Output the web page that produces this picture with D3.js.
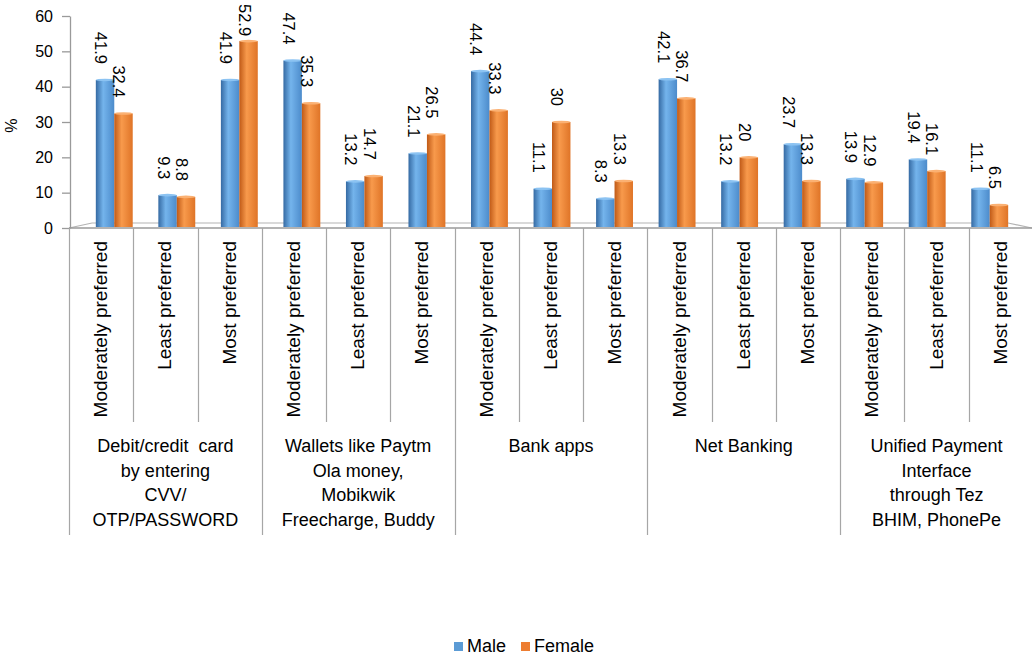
<!DOCTYPE html>
<html>
<head>
<meta charset="utf-8">
<script src="https://cdn.jsdelivr.net/npm/d3@7"></script>
<style>
  html, body { margin: 0; padding: 0; background: #fff; }
  svg { display: block; font-family: "Liberation Sans", Arial, sans-serif; }
  text { white-space: pre; }
</style>
</head>
<body>
<svg id="chart" width="1032" height="658"></svg>
<script>
// Preference of payment modes, by gender (%)
const groups = [
  ["Debit/credit  card", "by entering", "CVV/", "OTP/PASSWORD"],
  ["Wallets like Paytm", "Ola money,", "Mobikwik", "Freecharge, Buddy"],
  ["Bank apps"],
  ["Net Banking"],
  ["Unified Payment", "Interface", "through Tez", "BHIM, PhonePe"]
];
const levels = ["Moderately preferred", "Least preferred", "Most preferred"];
const seriesNames = ["Male", "Female"];
const male   = [41.9, 9.3, 41.9, 47.4, 13.2, 21.1, 44.4, 11.1, 8.3, 42.1, 13.2, 23.7, 13.9, 19.4, 11.1];
const female = [32.4, 8.8, 52.9, 35.3, 14.7, 26.5, 33.3, 30, 13.3, 36.7, 20, 13.3, 12.9, 16.1, 6.5];
const yTicks = [0, 10, 20, 30, 40, 50, 60];

const colors = {
  Male:   { base: "#5b9bd5", stops: ["#356aa3", "#74b4ec", "#4c8bcb"], cap: "#8cc3f2" },
  Female: { base: "#ed7d31", stops: ["#c05a17", "#f89a4c", "#df7427"], cap: "#fbb173" }
};

const svg = d3.select("#chart");

// categories: one slot per (group, level)
const cats = [];
groups.forEach((g, gi) => levels.forEach((l, li) => cats.push({ gi, li, label: l })));
const catIdx = cats.map((d, i) => i);

// front plane of the floor (axis labels) and the depth plane where columns sit
const xSlot = d3.scaleBand().domain(catIdx).range([69, 1033]);
const xBar = d3.scaleBand().domain(catIdx).range([83, 1021]).paddingInner(0.41).paddingOuter(0.205);
const xSeries = d3.scaleBand().domain(seriesNames).range([0, xBar.bandwidth()]);
const y = d3.scaleLinear().domain([0, 60]).range([228, 16]);

// gradients for the cylindrical look
const defs = svg.append("defs");
seriesNames.forEach(s => {
  const g = defs.append("linearGradient").attr("id", "grad-" + s).attr("x1", 0).attr("x2", 1).attr("y1", 0).attr("y2", 0);
  [0, 0.4, 1].forEach((o, i) => g.append("stop").attr("offset", o).attr("stop-color", colors[s].stops[i]));
});

// floor outline (front edge, back edge, sides)
const gridCol = "#b3b3b3";
const floorDepthX = 23, floorDepthY = 5;
const x0 = xSlot.range()[0], x1 = 1032;
svg.append("path")
  .attr("d", `M${x0},${y(0)} L${x0 + floorDepthX},${y(0) - floorDepthY} L${x1 - floorDepthX - 1},${y(0) - floorDepthY} L${x1},${y(0)}`)
  .attr("fill", "none").attr("stroke", gridCol).attr("stroke-width", 1.2);

// y axis
const yAxis = svg.append("g").attr("transform", "translate(70,0)")
  .call(d3.axisLeft(y).tickValues(yTicks).tickSize(8).tickPadding(9).tickSizeOuter(0));
yAxis.select(".domain").attr("stroke", "#9a9a9a").attr("stroke-width", 1.3);
yAxis.selectAll(".tick line").attr("stroke", "#9a9a9a").attr("stroke-width", 1.3);
yAxis.selectAll(".tick text").attr("font-size", 16).attr("fill", "#000")
  .attr("font-family", "'Liberation Sans', Arial, sans-serif");

svg.append("text").attr("transform", `translate(17,${y(29)}) rotate(-90)`)
  .attr("text-anchor", "middle").attr("font-size", 16).text("%");

// x axis baseline
svg.append("line").attr("x1", x0).attr("x2", x1).attr("y1", y(0)).attr("y2", y(0))
  .attr("stroke", "#9a9a9a").attr("stroke-width", 1.5);

// category dividers: short between levels, long between groups
const divs = svg.append("g");
catIdx.concat([cats.length]).forEach(i => {
  const xx = Math.round(i < cats.length ? xSlot(i) : xSlot.range()[1]) + 0.5;
  const isGroup = i % levels.length === 0;
  divs.append("line").attr("x1", xx).attr("x2", xx).attr("y1", y(0))
    .attr("y2", isGroup ? 535 : 422).attr("stroke", "#a6a6a6").attr("stroke-width", 1.2);
});

// level labels
svg.append("g").selectAll("text").data(cats).join("text")
  .attr("transform", (d, i) => `translate(${xSlot(i) + xSlot.bandwidth() / 2 + 6},241) rotate(-90)`)
  .attr("text-anchor", "end").attr("font-size", 19).attr("fill", "#000")
  .text(d => d.label);

// group labels
groups.forEach((lines, gi) => {
  const gx = (xSlot(gi * 3) + xSlot(gi * 3 + 2) + xSlot.bandwidth()) / 2;
  const t = svg.append("text").attr("text-anchor", "middle").attr("font-size", 18).attr("fill", "#000");
  lines.forEach((ln, k) => t.append("tspan").attr("x", gx).attr("y", 452 + k * 24.7).text(ln));
});

// columns
const rows = catIdx.map(i => ({ i, Male: male[i], Female: female[i] }));
const bars = svg.append("g");
rows.forEach(r => {
  seriesNames.forEach(s => {
    const v = r[s];
    const bx = xBar(r.i) + xSeries(s);
    const bw = xSeries.bandwidth();
    const top = y(v);
    bars.append("rect").attr("x", bx).attr("y", top).attr("width", bw).attr("height", y(0) - 1 - top)
      .attr("fill", `url(#grad-${s})`);
    bars.append("ellipse").attr("cx", bx + bw / 2).attr("cy", top).attr("rx", bw / 2).attr("ry", 1.3)
      .attr("fill", colors[s].cap);
  });
});

// value labels, rotated, above each column
const labels = svg.append("g");
rows.forEach(r => {
  seriesNames.forEach(s => {
    const v = r[s];
    const cx = xBar(r.i) + xSeries(s) + xSeries.bandwidth() / 2 - 4;
    const t = labels.append("text").attr("font-size", 16.5).attr("fill", "#000")
      .attr("dominant-baseline", "central").text(String(v));
    const len = t.node().getComputedTextLength();
    const start = Math.max(4, y(v) - 16 - len);
    t.attr("transform", `translate(${cx},${start}) rotate(90)`);
  });
});

// legend
const leg = svg.append("g");
const legItems = [{ s: "Male", x: 454 }, { s: "Female", x: 521 }];
legItems.forEach(d => {
  leg.append("rect").attr("x", d.x).attr("y", 642).attr("width", 9).attr("height", 9).attr("fill", colors[d.s].base);
  leg.append("text").attr("x", d.x + 13).attr("y", 652).attr("font-size", 18).text(d.s);
});
</script>
</body>
</html>
